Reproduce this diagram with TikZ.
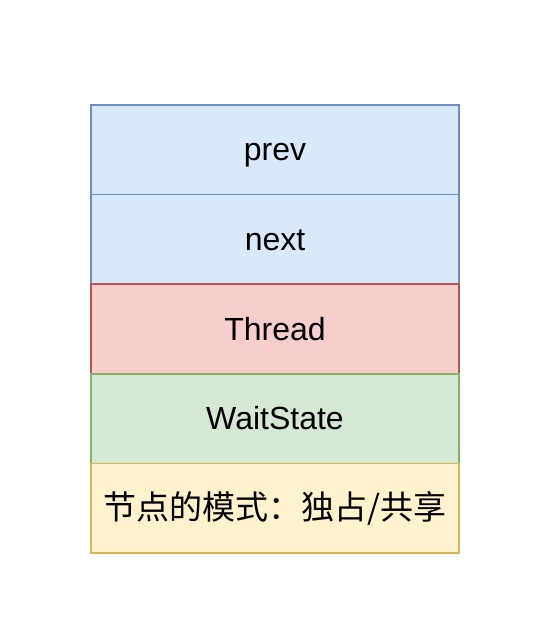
\documentclass[tikz,border=0pt]{standalone}
\usepackage{fontspec}
\setmainfont{Liberation Sans}
\newfontfamily\cjk{Noto Sans CJK SC}
\definecolor{bfill}{HTML}{DAE8FC}\definecolor{bdraw}{HTML}{6C8EBF}
\definecolor{rfill}{HTML}{F8CECC}\definecolor{rdraw}{HTML}{B85450}
\definecolor{gfill}{HTML}{D5E8D4}\definecolor{gdraw}{HTML}{82B366}
\definecolor{yfill}{HTML}{FFF2CC}\definecolor{ydraw}{HTML}{D6B656}
\tikzset{
  cell/.style={minimum width=368pt, minimum height=89.6pt, inner sep=0pt, line width=1.5pt,
    font=\fontsize{32}{36}\selectfont, text=black, text height=26pt, text depth=4pt},
  blue/.style={cell, fill=bfill, draw=bdraw},
  red/.style={cell, fill=rfill, draw=rdraw},
  green/.style={cell, fill=gfill, draw=gdraw},
  yellow/.style={cell, fill=yfill, draw=ydraw}
}
\begin{document}
\begin{tikzpicture}[x=1pt,y=-1pt]
\useasboundingbox (0,0) rectangle (556,640);
\node[blue] (prev) at (275,149.8) {prev};
\node[blue] (next) at (275,239.4) {next};
\node[red] (thread) at (275,329) {Thread};
\node[green] (wait) at (275,418.6) {WaitState};
\node[yellow, font=\fontsize{33}{36}\selectfont] (mode) at (275,508.2) {\cjk 节点的模式：独占/共享};
\end{tikzpicture}
\end{document}
